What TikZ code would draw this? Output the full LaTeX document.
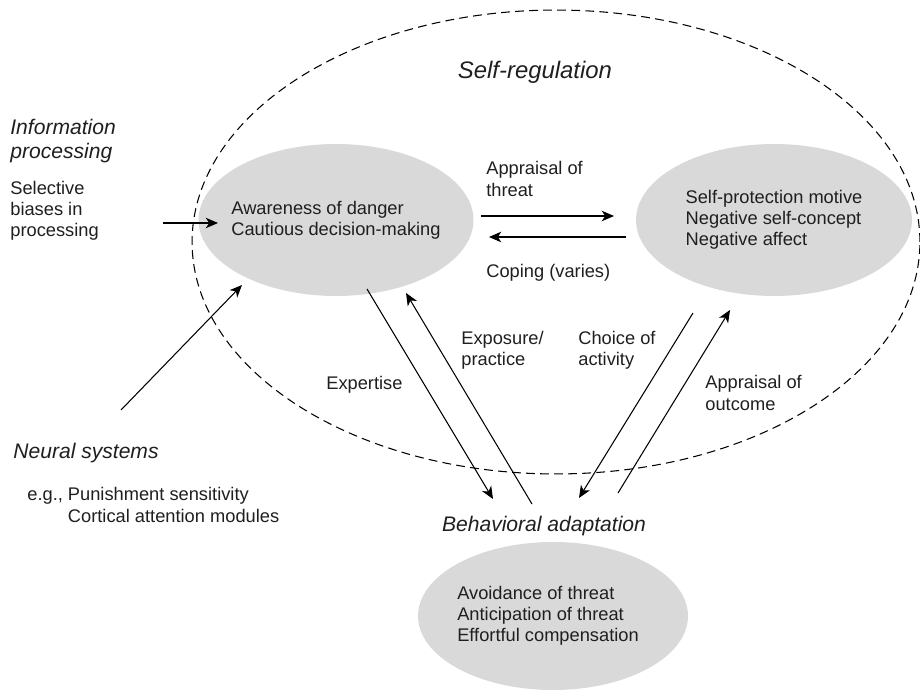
\documentclass[tikz,border=0pt]{standalone}
\usepackage{fontspec}
\setmainfont{Liberation Sans}
\usetikzlibrary{shapes.geometric, arrows.meta, positioning}

\begin{document}
\begin{tikzpicture}[x=0.02cm, y=-0.02cm,
    blob/.style={fill=black!15, ellipse, inner sep=0pt},
    txt/.style={align=left, anchor=west, inner sep=0pt, text=black!88, font=\fontsize{10.4}{12}\selectfont},
    head/.style={align=left, inner sep=0pt, text=black!88, font=\fontsize{12}{13.2}\selectfont\itshape},
    arr/.style={-{Stealth[length=7pt, width=6pt, inset=2pt]}, line width=0.6pt}]
\useasboundingbox (0,0) rectangle (920,692);

% the three states and the self-regulation region
\node[draw, dashed, dash pattern=on 5pt off 3pt, line width=0.6pt, ellipse,
      minimum width=14.56cm, minimum height=9.28cm] (selfreg) at (556,242) {};
\node[blob, minimum width=5.5cm, minimum height=3.04cm] (aware) at (336,220) {};
\node[txt, anchor=center] (awaretxt) at (aware) {Awareness of danger\\Cautious decision-making};
\node[blob, minimum width=5.52cm, minimum height=3.04cm] (protect) at (774,220) {};
\node[txt, anchor=center] (protecttxt) at (protect) {Self-protection motive\\Negative self-concept\\Negative affect};
\node[blob, minimum width=5.4cm, minimum height=2.96cm] (adapt) at (553,616) {};
\node[txt, anchor=center] (adapttxt) at ([xshift=-0.1cm]adapt) {Avoidance of threat\\Anticipation of threat\\Effortful compensation};

% headings
\node[head, font=\fontsize{13.6}{15}\selectfont\itshape] (selfregtitle) at (535,72) {Self-regulation};
\node[head, anchor=west] (infotitle) at (10,141) {Information\\processing};
\node[head, anchor=west] (neuraltitle) at (13,453) {Neural systems};
\node[head] (adapttitle) at (544,526) {Behavioral adaptation};

% side texts
\node[txt] (biases) at (10,211) {Selective\\biases in\\processing};
\node[txt] (neuralex) at (27,505) {e.g., Punishment sensitivity\\\hphantom{e.g.,\ }Cortical attention modules};

% arrow labels
\node[txt] (appthreat) at (486,179) {Appraisal of\\threat};
\node[txt] (coping) at (486,273) {Coping (varies)};
\node[txt] (exposure) at (461,350) {Exposure/\\practice};
\node[txt] (choice) at (578,350) {Choice of\\activity};
\node[txt] (expertise) at (326,385) {Expertise};
\node[txt] (appoutcome) at (705,393) {Appraisal of\\outcome};

% arrow ends
\coordinate (infoin) at (163,223);
\coordinate (infotip) at (218,223);
\coordinate (neuralin) at (121,410);
\coordinate (neuraltip) at (242,285);
\coordinate (threatin) at (481,216);
\coordinate (threattip) at (614,216);
\coordinate (copein) at (626,237);
\coordinate (copetip) at (489,237);
\coordinate (expin) at (367,289);
\coordinate (exptip) at (493,499);
\coordinate (expoin) at (532,504);
\coordinate (expotip) at (406,293);
\coordinate (choicein) at (693,313);
\coordinate (choicetip) at (579,498);
\coordinate (outin) at (618,493);
\coordinate (outtip) at (730,310);

\draw[arr] (infoin) -- (infotip);
\draw[arr] (neuralin) -- (neuraltip);
\draw[arr] (threatin) -- (threattip);
\draw[arr] (copein) -- (copetip);
\draw[arr] (expin) -- (exptip);
\draw[arr] (expoin) -- (expotip);
\draw[arr] (choicein) -- (choicetip);
\draw[arr] (outin) -- (outtip);
\end{tikzpicture}
\end{document}
